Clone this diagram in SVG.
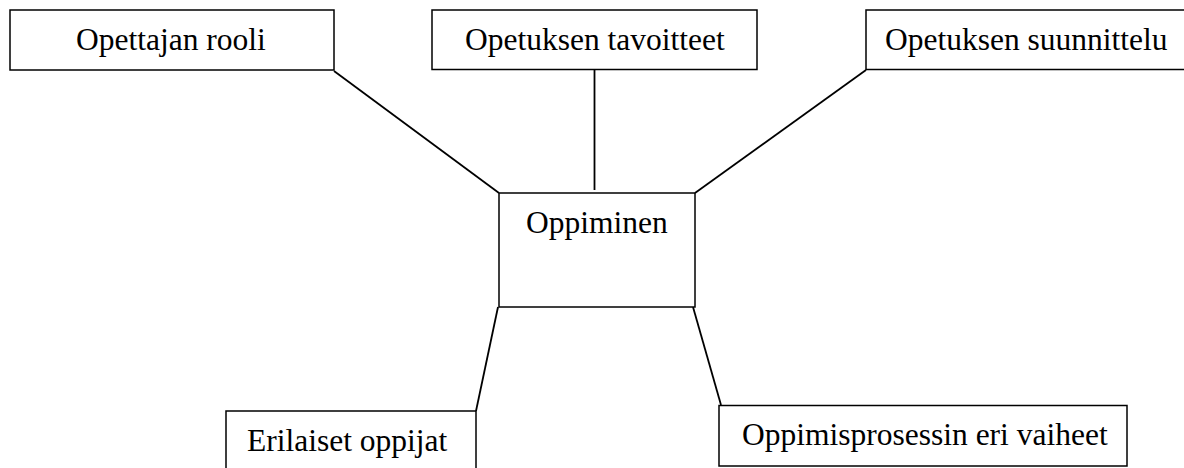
<svg xmlns="http://www.w3.org/2000/svg" width="1184" height="468" viewBox="0 0 1184 468">
<style>
.box{fill:#fff;stroke:#000;stroke-width:1.5}
.lbl{font-family:"Liberation Serif","Times New Roman",serif;font-size:31.5px;fill:#000}
.con{stroke:#000;stroke-width:1.8;fill:none}
</style>
<rect width="1184" height="468" fill="#fff"/>
<g id="connectors">
<line class="con" x1="334" y1="71" x2="499" y2="193"/>
<line class="con" x1="594.5" y1="70" x2="594.5" y2="190"/>
<line class="con" x1="866" y1="70" x2="695" y2="193"/>
<line class="con" x1="498" y1="307" x2="476" y2="411"/>
<line class="con" x1="693" y1="307" x2="721" y2="405"/>
</g>
<g id="n-opettajan-rooli">
<rect class="box" x="10" y="10" width="324" height="60"/>
<text class="lbl" x="76" y="50">Opettajan rooli</text>
</g>
<g id="n-opetuksen-tavoitteet">
<rect class="box" x="432" y="10" width="325" height="59.5"/>
<text class="lbl" x="465" y="49.5">Opetuksen tavoitteet</text>
</g>
<g id="n-opetuksen-suunnittelu">
<rect class="box" x="866" y="10" width="330" height="59.5"/>
<text class="lbl" x="885" y="50">Opetuksen suunnittelu</text>
</g>
<g id="n-oppiminen">
<rect class="box" x="499" y="193" width="196" height="114"/>
<text class="lbl" x="526" y="233">Oppiminen</text>
</g>
<g id="n-erilaiset-oppijat">
<rect class="box" x="226" y="411" width="250" height="70"/>
<text class="lbl" x="247" y="450.5">Erilaiset oppijat</text>
</g>
<g id="n-oppimisprosessin">
<rect class="box" x="719" y="405.5" width="408" height="60.5"/>
<text class="lbl" x="742" y="445">Oppimisprosessin eri vaiheet</text>
</g>
</svg>
